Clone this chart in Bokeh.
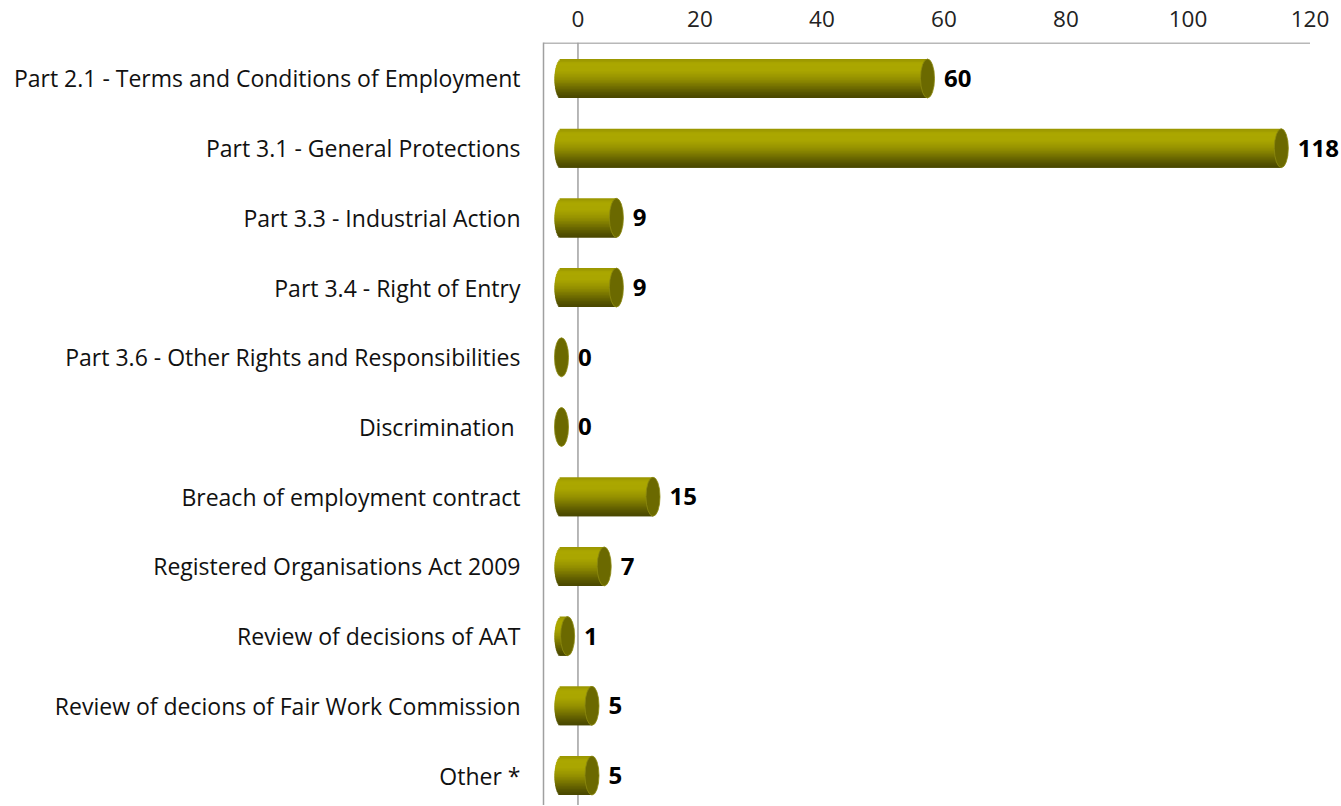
import numpy as np
from bokeh.plotting import figure
from bokeh.models import Range1d, FixedTicker, Span, ColumnDataSource
from bokeh.core.properties import value
from bokeh.embed import file_html
from bokeh.resources import INLINE

categories = [
    "Part 2.1 - Terms and Conditions of Employment",
    "Part 3.1 - General Protections",
    "Part 3.3 - Industrial Action",
    "Part 3.4 - Right of Entry",
    "Part 3.6 - Other Rights and Responsibilities",
    "Discrimination ",
    "Breach of employment contract",
    "Registered Organisations Act 2009",
    "Review of decisions of AAT",
    "Review of decions of Fair Work Commission",
    "Other *",
]
counts = [60, 118, 9, 9, 0, 0, 15, 7, 1, 5, 5]
x_ticks = [0, 20, 40, 60, 80, 100, 120]

FONT = "Open Sans"
SHIFT = -2.7        # 3D depth offset of the cylinders (data units)
CAP_W = 2.3         # ellipse width of cylinder ends (data units)
BAR_H = 0.56        # cylinder thickness (category units)
X0, X1 = -5.65, 125.0
AXIS_END = 120

p = figure(width=1340, height=805, output_backend="svg", toolbar_location=None,
           x_range=Range1d(X0, X1), y_range=Range1d(10.43, -0.516),
           x_axis_location="above", min_border_left=543, min_border_right=0,
           min_border_top=42, min_border_bottom=0)
p.outline_line_color = None
p.xgrid.visible = False
p.ygrid.visible = False
p.background_fill_color = "white"
p.border_fill_color = "white"

xa = p.xaxis[0]
xa.ticker = FixedTicker(ticks=x_ticks)
xa.major_tick_line_color = None
xa.minor_tick_line_color = None
xa.axis_line_color = None
xa.major_label_text_font = FONT
xa.major_label_text_font_size = "22.5px"
xa.major_label_text_color = "#222222"
xa.major_label_standoff = 10

ya = p.yaxis[0]
ya.ticker = FixedTicker(ticks=list(range(len(categories))))
ya.major_label_overrides = {i: c for i, c in enumerate(categories)}
ya.major_tick_line_color = None
ya.minor_tick_line_color = None
ya.axis_line_color = "#a0a0a0"
ya.axis_line_width = 1.5
ya.major_label_text_font = FONT
ya.major_label_text_font_size = "23px"
ya.major_label_text_color = "#111111"
ya.major_label_standoff = 17

# top axis line (ends at the last tick)
p.segment(x0=[X0], x1=[AXIS_END], y0=[-0.51], y1=[-0.51],
          line_color="#a0a0a0", line_width=1.5)
p.add_layout(Span(location=0, dimension="height", line_color="#a0a0a0",
                  line_width=1.5, level="underlay"))

# cylinder body as cascading gradient bands with rounded left end
stops_t = [0.0, 0.12, 0.3, 0.5, 0.7, 0.88, 1.0]
stops_c = [(152, 148, 0), (172, 168, 0), (170, 166, 0), (150, 146, 0),
           (116, 113, 0), (86, 84, 0), (72, 70, 0)]
N = 26
ys = np.arange(len(categories))
vals = np.array(counts, dtype=float)
mask = vals > 0
edges = np.linspace(-BAR_H / 2, BAR_H / 2, N + 1)
band = BAR_H / N
for k in range(N):
    t = (k + 0.5) / N
    col = [int(np.interp(t, stops_t, [c[j] for c in stops_c])) for j in range(3)]
    color = "#%02x%02x%02x" % tuple(col)
    u = 2 * t - 1
    ext = (CAP_W / 2) * np.sqrt(max(0.0, 1 - u * u))
    top = edges[k]
    bot = edges[k + 1] + (band if k < N - 1 else 0.0)
    src = ColumnDataSource(dict(top=ys[mask] + top, bottom=ys[mask] + bot,
                                left=SHIFT - ext + 0 * vals[mask],
                                right=SHIFT + vals[mask]))
    p.quad(top="top", bottom="bottom", left="left", right="right", source=src,
           fill_color=color, line_color=None)

# right end caps
cap_src = ColumnDataSource(dict(x=SHIFT + vals, y=ys))
p.ellipse(x="x", y="y", width=CAP_W, height=BAR_H, source=cap_src,
          fill_color="#6b6900", line_color="#8d8a10", line_width=0.8)

# value labels
lab_src = ColumnDataSource(dict(x=vals, y=ys, t=[str(c) for c in counts]))
p.text(x="x", y="y", text="t", source=lab_src, x_offset=0,
       text_align="left", text_baseline="middle", text_font=value(FONT),
       text_font_style="bold", text_font_size="24px", text_color="#000000")

open("out.html", "w").write(file_html(p, INLINE))
